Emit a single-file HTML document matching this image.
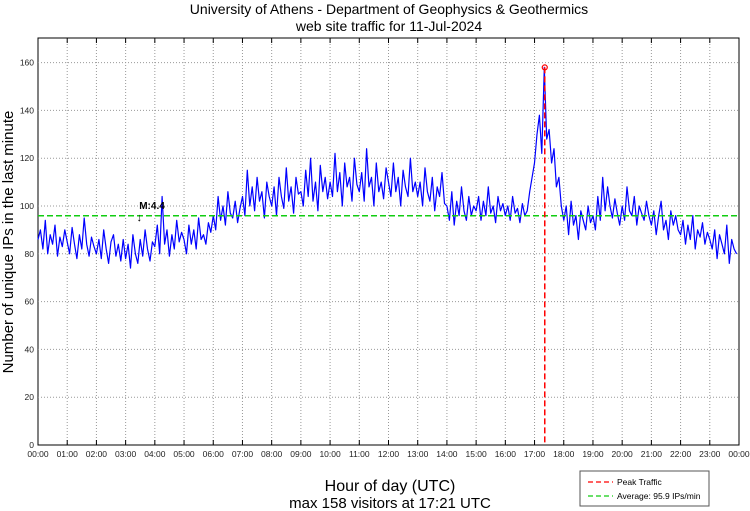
<!DOCTYPE html>
<html><head><meta charset="utf-8"><style>
html,body{margin:0;padding:0;background:#fff;}
svg{display:block;font-family:"Liberation Sans",sans-serif;}
</style></head><body>
<svg id="chart" width="750" height="511" viewBox="0 0 750 511">
<text x="389" y="14" text-anchor="middle" font-size="14">University of Athens - Department of Geophysics &amp; Geothermics</text>
<text x="389" y="31" text-anchor="middle" font-size="14">web site traffic for 11-Jul-2024</text>
<rect x="38" y="38" width="701" height="407" fill="#fff" stroke="#000" stroke-width="1"/>
<g id="grid"></g>
<g id="series"></g>
<g id="overlay"></g>
<text transform="translate(13,242) rotate(-90)" text-anchor="middle" font-size="15">Number of unique IPs in the last minute</text>
<text x="390" y="491" text-anchor="middle" font-size="16">Hour of day (UTC)</text>
<text x="390" y="508" text-anchor="middle" font-size="15">max 158 visitors at 17:21 UTC</text>
<g>
<rect x="580" y="471" width="129" height="35" fill="#fff" stroke="#555" stroke-width="1"/>
<line x1="588" y1="482" x2="613" y2="482" stroke="#f00" stroke-width="1.3" stroke-dasharray="5,3"/>
<text x="617" y="485" font-size="8.5">Peak Traffic</text>
<line x1="588" y1="496" x2="613" y2="496" stroke="#1c1" stroke-width="1.3" stroke-dasharray="5,3"/>
<text x="617" y="499" font-size="8.5">Average: 95.9 IPs/min</text>
</g>
</svg>
<script>
const yTicks=[0,20,40,60,80,100,120,140,160];
const xTickLabels=["00:00","01:00","02:00","03:00","04:00","05:00","06:00","07:00","08:00","09:00","10:00","11:00","12:00","13:00","14:00","15:00","16:00","17:00","18:00","19:00","20:00","21:00","22:00","23:00","00:00"];
const traffic=[
86,90,82,94,80,88,84,92,79,87,83,90,
85,80,91,84,78,88,82,95,84,79,87,83,
80,86,78,90,82,76,85,88,79,84,77,86,
78,84,74,88,80,76,86,79,90,82,77,85,
83,92,80,104,84,90,79,88,82,94,85,89,
86,80,92,84,90,82,95,86,88,84,93,89,
96,90,104,94,100,92,106,97,95,102,93,99,
104,96,115,100,108,98,112,102,106,95,110,104,
100,108,96,112,104,99,116,102,108,97,112,105,
106,100,115,104,120,102,110,98,117,106,112,103,
110,104,122,106,114,100,118,108,112,102,120,109,
106,114,102,124,108,112,100,118,106,110,103,116,
110,104,118,106,112,100,115,108,104,120,106,110,
104,110,100,116,106,102,112,98,108,104,114,101,
100,94,106,92,102,96,108,98,94,104,96,100,
98,104,94,102,96,108,97,100,93,104,98,101,
96,100,94,104,97,99,93,101,96,98,106,112,
118,130,138,122,158,128,132,118,124,108,112,100,
94,100,88,102,92,96,86,98,94,90,100,93,
96,90,104,94,112,98,108,100,95,103,97,92,
100,94,108,98,96,104,92,100,97,94,102,96,
92,98,88,96,102,90,94,86,98,92,96,90,
88,94,84,92,86,96,82,90,87,93,84,89,
86,82,90,78,88,84,80,92,76,86,82,80];
const average=[95.9];
const peakValue=[158];
const peakHour=[17+21/60];
const magnitudeMark=[3.5,100,"M:4.4"];

const NS="http://www.w3.org/2000/svg";
const X0=38,X1=739,Y0=445,YT=38,YMAX=170.3;
function xs(h){return X0+(X1-X0)*h/24;}
function ys(v){return Y0-(Y0-YT)*v/YMAX;}
function mk(tag,attrs,parent){const e=document.createElementNS(NS,tag);for(const k in attrs)e.setAttribute(k,attrs[k]);parent.appendChild(e);return e;}
const grid=document.getElementById('grid'),series=document.getElementById('series'),ov=document.getElementById('overlay');
yTicks.forEach(v=>{
  const y=ys(v);
  if(v>0){const l=mk('line',{x1:X0,x2:X1,y1:y,y2:y,stroke:'#999','stroke-width':1,'stroke-dasharray':'1,2'},grid);
  
  }
  const t=mk('text',{x:X0-4,y:y+3,'text-anchor':'end','font-size':8.5,fill:'#222'},grid);
  t.textContent=v;
  
  
});
xTickLabels.forEach((s,i)=>{
  const x=xs(i);
  if(i>0&&i<24){const l=mk('line',{x1:x,x2:x,y1:YT,y2:Y0,stroke:'#999','stroke-width':1,'stroke-dasharray':'1,2'},grid);
  
  
  mk('line',{x1:x,x2:x,y1:Y0,y2:Y0-5,stroke:'#000'},grid);
  mk('line',{x1:x,x2:x,y1:YT,y2:YT+5,stroke:'#000'},grid);}
  const t=mk('text',{x:x,y:Y0+12,'text-anchor':'middle','font-size':8.5,fill:'#222'},grid);
  t.textContent=s;
  
  
});
const n=traffic.length;
const pts=traffic.map((v,i)=>xs(i*24/n).toFixed(1)+','+ys(v).toFixed(1)).join(' ');
const pl=mk('polyline',{points:pts,fill:'none',stroke:'#00f','stroke-width':1.2,'stroke-linejoin':'round'},series);


const av=mk('line',{x1:X0,x2:X1,y1:ys(average[0]),y2:ys(average[0]),stroke:'#1c1','stroke-width':1.5,'stroke-dasharray':'6,3'},ov);


const pk=mk('line',{x1:xs(peakHour[0]),x2:xs(peakHour[0]),y1:ys(peakValue[0]),y2:Y0,stroke:'#f00','stroke-width':1.5,'stroke-dasharray':'6,3'},ov);


const pc=mk('circle',{cx:xs(peakHour[0]),cy:ys(peakValue[0]),r:2.5,fill:'none',stroke:'#f00','stroke-width':1.2},ov);


const mt=mk('text',{x:xs(magnitudeMark[0])-1,y:ys(magnitudeMark[1])+3,'font-size':10,'font-weight':'bold'},ov);
mt.textContent=magnitudeMark[2];


const ma=mk('text',{x:xs(magnitudeMark[0])-1,y:ys(magnitudeMark[1])+15,'font-size':11,'text-anchor':'middle'},ov);
ma.textContent='↓';


</script>
</body></html>
